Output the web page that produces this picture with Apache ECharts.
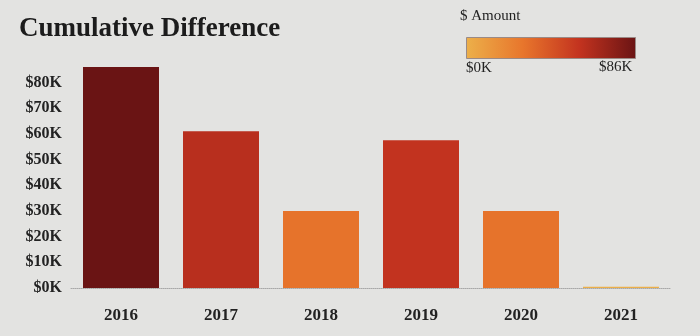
<!DOCTYPE html>
<html>
<head>
<meta charset="utf-8">
<script src="https://cdn.jsdelivr.net/npm/echarts@6/dist/echarts.min.js"></script>
<style>
  html, body { margin: 0; padding: 0; background: #e3e3e1; }
  #chart { width: 700px; height: 336px; }
</style>
</head>
<body>
<div id="chart"></div>
<script>
// Yearly cumulative difference, in dollars
const years = ['2016', '2017', '2018', '2019', '2020', '2021'];
const amounts = [86000, 61000, 30000, 57500, 30000, 500];
const scaleMin = 0;
const scaleMax = 86000;
const rampColors = ['#ecb04a', '#e8762c', '#c3331f', '#6a1414'];
const legendTitle = '$ Amount';
const legendMinLabel = '$0K';
const legendMaxLabel = '$86K';

const serif = '"Liberation Serif", "DejaVu Serif", serif';
const chart = echarts.init(document.getElementById('chart'));

const rampStops = rampColors.map((c, i) => ({ offset: i / (rampColors.length - 1), color: c }));

chart.setOption({
  backgroundColor: '#e3e3e1',
  animation: false,
  title: {
    text: 'Cumulative Difference',
    left: 14, top: 11,
    textStyle: { fontFamily: serif, fontWeight: 'bold', fontSize: 27, color: '#1c1c1c' }
  },
  grid: { left: 71, right: 29, top: 67, bottom: 48 },
  visualMap: {
    show: false,
    type: 'continuous',
    min: scaleMin, max: scaleMax,
    dimension: 1,
    inRange: { color: rampColors }
  },
  xAxis: {
    type: 'category',
    data: years,
    axisTick: { show: false },
    axisLine: { lineStyle: { color: '#a8a8a8', type: 'dotted', width: 1 } },
    axisLabel: {
      margin: 19,
      fontFamily: serif, fontWeight: 'bold', fontSize: 17, color: '#222'
    }
  },
  yAxis: {
    type: 'value',
    min: scaleMin, max: scaleMax, interval: 10000,
    splitLine: { show: false },
    axisLine: { show: false },
    axisTick: { show: false },
    axisLabel: {
      margin: 9,
      showMaxLabel: false,
      fontFamily: serif, fontWeight: 'bold', fontSize: 16, color: '#222',
      formatter: v => '$' + (v / 1000) + 'K'
    }
  },
  series: [{
    type: 'bar',
    data: amounts,
    barCategoryGap: '24%'
  }],
  graphic: [
    {
      type: 'text', left: 460, top: 9,
      style: { text: legendTitle, font: '15px ' + serif, fill: '#222' }
    },
    {
      type: 'rect', left: 466, top: 37,
      shape: { width: 169, height: 21 },
      style: {
        fill: new echarts.graphic.LinearGradient(0, 0, 1, 0, rampStops),
        stroke: '#9a8a86', lineWidth: 1
      }
    },
    {
      type: 'text', left: 466, top: 61,
      style: { text: legendMinLabel, font: '15px ' + serif, fill: '#222' }
    },
    {
      type: 'text', left: 599, top: 60,
      style: { text: legendMaxLabel, font: '15px ' + serif, fill: '#222' }
    }
  ]
});
</script>
</body>
</html>
